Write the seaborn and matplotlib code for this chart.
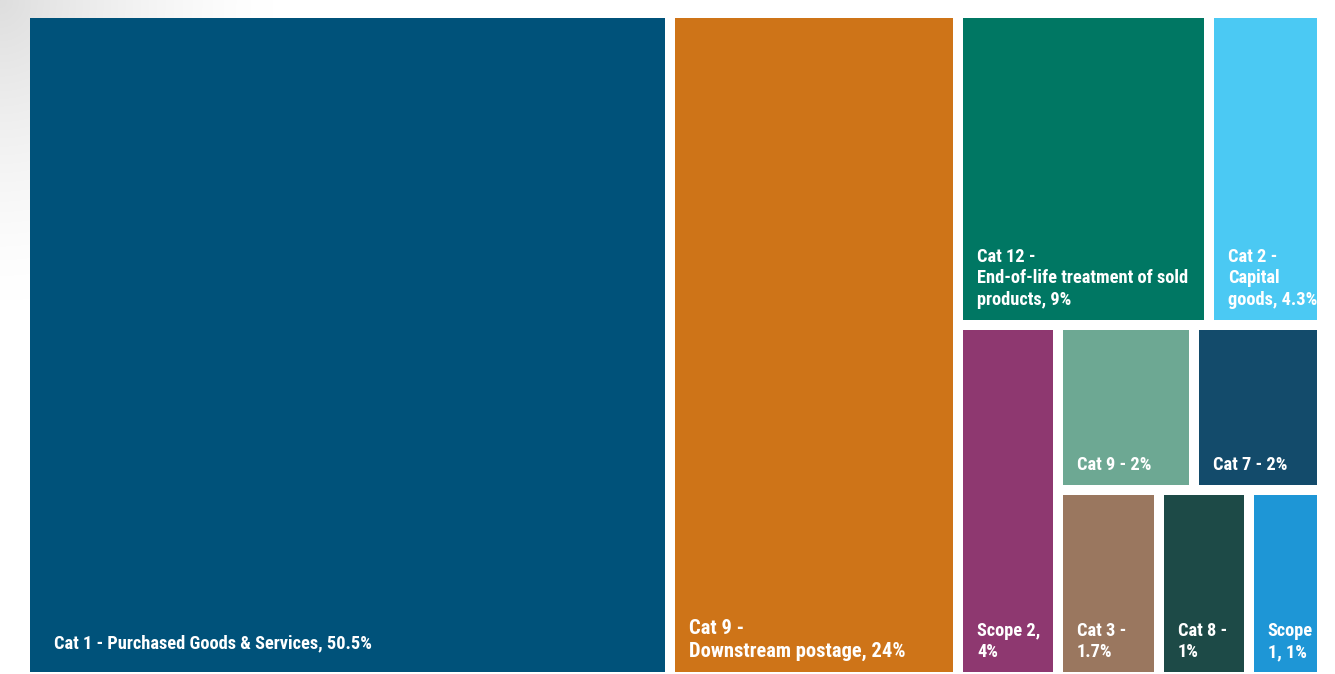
import numpy as np
import matplotlib
matplotlib.use("Agg")
import matplotlib.pyplot as plt
import seaborn as sns
from matplotlib import font_manager as fm
from matplotlib.patches import Rectangle

# ---------------- data ----------------
categories = [
    "Cat 1 - Purchased Goods & Services",
    "Cat 9 - Downstream postage",
    "Cat 12 - End-of-life treatment of sold products",
    "Cat 2 - Capital goods",
    "Scope 2",
    "Cat 9",
    "Cat 7",
    "Cat 3",
    "Cat 8",
    "Scope 1",
]
# tile weights
sizes = [49.8, 22.2, 9.1, 4.1, 4.1, 2.6, 2.45, 2.2, 1.95, 1.6]
# labels as printed on the tiles
labels = [
    "Cat 1 - Purchased Goods & Services, 50.5%",
    "Cat 9 -\nDownstream postage, 24%",
    "Cat 12 -\nEnd-of-life treatment of sold\nproducts, 9%",
    "Cat 2 -\nCapital\ngoods, 4.3%",
    "Scope 2,\n4%",
    "Cat 9 - 2%",
    "Cat 7 - 2%",
    "Cat 3 -\n1.7%",
    "Cat 8 -\n1%",
    "Scope\n1, 1%",
]
colors = ["#00527A", "#CE7418", "#007763", "#4BC9F3", "#8E3870",
          "#6DA893", "#134B6B", "#9A775F", "#1D4A47", "#1E96D6"]
label_font = [13.2, 14.8, 13.2, 13.2, 13.2, 13.2, 13.2, 13.2, 13.2, 13.2]

# nesting of the treemap: 'h' = side by side, 'v' = stacked
tree = ("h", [0, 1, ("v", [("h", [2, 3]),
                           ("h", [4, ("v", [("h", [5, 6]),
                                            ("h", [7, 8, 9])])])])])

sns.set_theme(style="white")

# font selection
names = {f.name for f in fm.fontManager.ttflist}
fam = None
for cand in ["Roboto Condensed", "Liberation Sans Narrow", "Roboto", "DejaVu Sans"]:
    if cand in names:
        fam = cand
        break
plt.rcParams["font.family"] = [fam, "DejaVu Sans"]

fig = plt.figure(figsize=(13.35, 6.74), dpi=100)

# faint grey glow in the top-left corner
bg = fig.add_axes([0, 0, 1, 1])
yy, xx = np.mgrid[0:674, 0:1335]
r = np.hypot(xx * 1.1, yy) / 300.0
v = 1 - 0.13 * np.clip(1 - r, 0, 1) ** 1.4
img = np.dstack([v, v, v])
bg.imshow(img, extent=(0, 1335, 674, 0), aspect="auto", zorder=0)
bg.set_xlim(0, 1335)
bg.set_ylim(674, 0)
bg.axis("off")

BW, BH = 1297, 664
ax = fig.add_axes([25 / 1335, (674 - 677) / 674, BW / 1335, BH / 674])
ax.set_xlim(0, BW)
ax.set_ylim(BH, 0)
ax.axis("off")
ax.patch.set_alpha(0)


def total(node):
    if isinstance(node, int):
        return sizes[node]
    return sum(total(c) for c in node[1])


rects = {}


def layout(node, x, y, w, h):
    if isinstance(node, int):
        rects[node] = (x, y, w, h)
        return
    orient, children = node
    s = total(node)
    pos = 0.0
    for c in children:
        frac = total(c) / s
        if orient == "h":
            layout(c, x + pos * w, y, frac * w, h)
        else:
            layout(c, x, y + pos * h, w, frac * h)
        pos += frac


layout(tree, 0, 0, BW, BH)

gap = 5
for i in range(len(categories)):
    x, y, w, h = rects[i]
    ax.add_patch(Rectangle((x + gap, y + gap), w - 2 * gap, h - 2 * gap,
                           facecolor=colors[i], edgecolor="none", clip_on=False))
    pad_x = 24 if w > 500 else 14
    pad_y = 20 if w > 500 else 11
    ax.text(x + gap + pad_x, y + h - gap - pad_y, labels[i], color="white",
            fontsize=label_font[i], fontweight="bold", ha="left", va="bottom",
            linespacing=1.25, clip_on=False)

fig.savefig("out.png", dpi=100)
